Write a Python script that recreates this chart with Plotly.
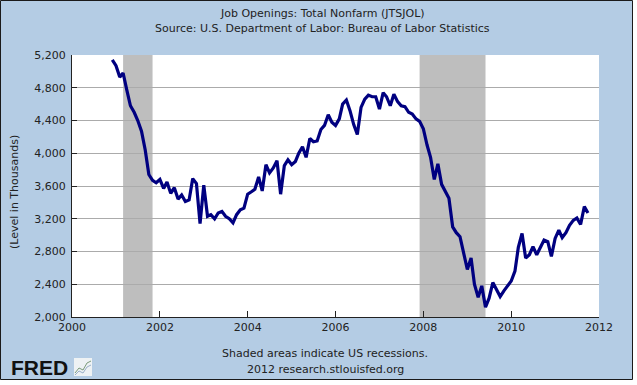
import pandas as pd
import plotly.graph_objects as go

# ---- data (monthly, Dec 2000 .. Oct 2011), thousands ----
start_month = "2000-12-01"
job_openings = [
    5140,
    5070, 4930, 4980, 4770, 4580, 4500, 4400, 4270, 4040, 3740, 3670, 3640,
    3680, 3570, 3650, 3510, 3580, 3440, 3490, 3410, 3430, 3690, 3630, 3140,
    3610, 3230, 3250, 3200, 3270, 3290, 3230, 3200, 3150, 3250, 3310, 3330,
    3500, 3530, 3560, 3710, 3540, 3860, 3760, 3820, 3910, 3500, 3850, 3920,
    3860, 3900, 4000, 4080, 3950, 4180, 4140, 4150, 4290, 4340, 4470, 4380,
    4340, 4420, 4600, 4650, 4520, 4350, 4230, 4560, 4660, 4710, 4690, 4690,
    4540, 4740, 4690, 4580, 4720, 4630, 4580, 4570, 4500, 4480, 4420, 4390,
    4300, 4100, 3950, 3680, 3870, 3620, 3540, 3450, 3100, 3030, 2980, 2800,
    2580, 2720, 2400, 2240, 2380, 2120, 2230, 2420, 2340, 2250, 2320, 2380,
    2440, 2560, 2850, 3020, 2720, 2760, 2860, 2760, 2860, 2940, 2920, 2740,
    2960, 3060, 2970, 3030, 3120, 3180, 3210, 3130, 3350, 3270,
]
dates = pd.date_range(start_month, periods=len(job_openings), freq="MS")

recession_starts = ["2001-03-01", "2007-12-01"]
recession_ends = ["2001-11-01", "2009-06-01"]

y_ticks = [2000, 2400, 2800, 3200, 3600, 4000, 4400, 4800, 5200]
x_tick_labels = ["2000", "2002", "2004", "2006", "2008", "2010", "2012"]

title_lines = ["Job Openings: Total Nonfarm (JTSJOL)",
               "Source: U.S. Department of Labor: Bureau of Labor Statistics"]
footer_lines = ["Shaded areas indicate US recessions.",
                "2012 research.stlouisfed.org"]

# ---- layout geometry ----
W, H = 637, 385
L, R, T, B = 72, 38, 55, 68
PW, PH = W - L - R, H - T - B


def px(p):
    return (p - L) / PW


def py(p):
    return (H - B - p) / PH


FONT = "DejaVu Sans"
BG = "#B4CCE4"

fig = go.Figure()
fig.add_trace(go.Scatter(
    x=dates, y=job_openings, mode="lines",
    line=dict(color="#000080", width=3.2),
    hoverinfo="skip", showlegend=False,
))

shapes = [
    # light-blue frame with dark border
    dict(type="rect", xref="paper", yref="paper", layer="below",
         x0=px(0.5), x1=px(632.5), y0=py(379.5), y1=py(0.5),
         fillcolor=BG, line=dict(color="#1a1a1a", width=1)),
    # white plot area
    dict(type="rect", xref="paper", yref="paper", layer="below",
         x0=0, x1=1, y0=0, y1=1, fillcolor="white", line=dict(width=0)),
]
for s, e in zip(recession_starts, recession_ends):
    shapes.append(dict(type="rect", xref="x", yref="paper", layer="between",
                       x0=s, x1=e, y0=0, y1=1,
                       fillcolor="#BEBEBE", line=dict(width=0)))
# small FRED graph icon
shapes.append(dict(type="rect", xref="paper", yref="paper", layer="above",
                   x0=px(74), x1=px(92), y0=py(376), y1=py(358),
                   fillcolor="#EEF2F4", line=dict(width=0)))
shapes.append(dict(type="path", xref="paper", yref="paper", layer="above",
                   path=f"M {px(75)},{py(373)} L {px(79)},{py(368)} L {px(83)},{py(370)} "
                        f"L {px(87)},{py(363)} L {px(91)},{py(361)}",
                   line=dict(color="#7a9a7a", width=1)))
shapes.append(dict(type="path", xref="paper", yref="paper", layer="above",
                   path=f"M {px(75)},{py(375)} L {px(79)},{py(371)} L {px(83)},{py(373)} "
                        f"L {px(87)},{py(367)} L {px(91)},{py(365)}",
                   line=dict(color="#9ab0c8", width=1)))

annotations = [
    dict(text=title_lines[0], x=px(322), y=py(13)),
    dict(text=title_lines[1], x=px(322), y=py(28)),
    dict(text=footer_lines[0], x=px(325), y=py(353)),
    dict(text=footer_lines[1], x=px(325), y=py(369)),
    dict(text="(Level in Thousands)", x=px(15), y=py(192), textangle=-90),
]
for a in annotations:
    a.update(xref="paper", yref="paper", showarrow=False,
             xanchor="center", yanchor="middle",
             font=dict(family=FONT, size=11, color="#222222"))
annotations.append(dict(text="<b>FRED</b>", xref="paper", yref="paper",
                        x=px(9), y=py(367), xanchor="left", yanchor="middle",
                        showarrow=False,
                        font=dict(family="Liberation Sans", size=21, color="#111111")))

fig.update_layout(
    width=W, height=H,
    margin=dict(l=L, r=R, t=T, b=B, pad=0),
    paper_bgcolor="white", plot_bgcolor="white",
    font=dict(family=FONT, size=11, color="#222222"),
    shapes=shapes, annotations=annotations,
    showlegend=False,
    xaxis=dict(
        range=["2000-01-01", "2012-01-01"],
        tickmode="array",
        tickvals=[f"{y}-01-01" for y in x_tick_labels],
        ticktext=x_tick_labels,
        ticks="inside", ticklen=6, tickcolor="#222222",
        showline=True, linecolor="#222222", linewidth=1,
        showgrid=False, zeroline=False,
        tickfont=dict(family=FONT, size=11, color="#222222"),
    ),
    yaxis=dict(
        range=[2000, 5200],
        tickmode="array", tickvals=y_ticks,
        ticktext=[f"{v:,}" for v in y_ticks],
        ticks="inside", ticklen=5, tickcolor="#222222",
        showline=True, linecolor="#222222", linewidth=1,
        showgrid=True, gridcolor="#ABABAB", gridwidth=1,
        zeroline=False,
        ticklabelstandoff=3,
        tickfont=dict(family=FONT, size=11, color="#222222"),
    ),
)

fig.write_html(
    "out.html",
    config={"displayModeBar": False, "staticPlot": True},
    post_script="document.body.style.margin='0';document.body.style.overflow='hidden';",
)
